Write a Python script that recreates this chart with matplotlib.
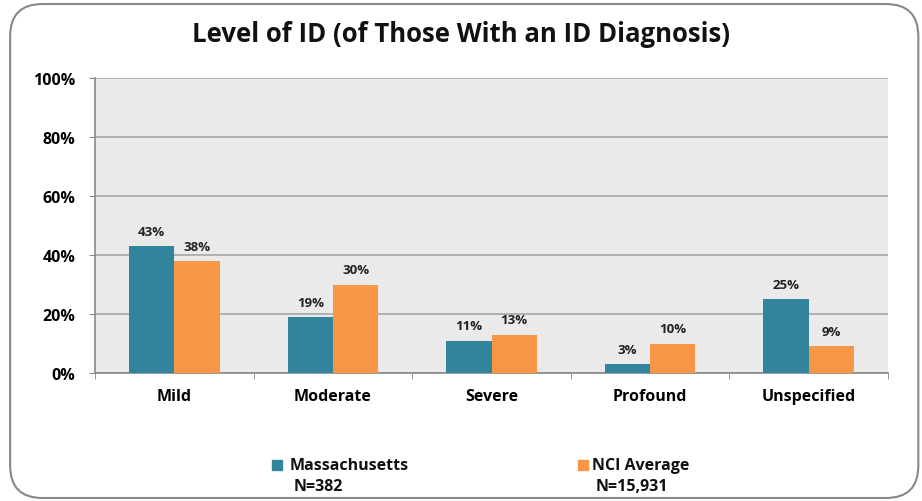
import numpy as np
import matplotlib.pyplot as plt
from matplotlib.patches import FancyBboxPatch, Rectangle

categories = ["Mild", "Moderate", "Severe", "Profound", "Unspecified"]
massachusetts = [43, 19, 11, 3, 25]
nci_average = [38, 30, 13, 10, 9]
series_names = ["Massachusetts", "NCI Average"]
series_n = ["N=382", "N=15,931"]
yticks = [0, 20, 40, 60, 80, 100]

teal = "#31849B"
orange = "#F79646"
font = "Open Sans"

fig = plt.figure(figsize=(9.22, 5.02), dpi=100)
fig.patch.set_facecolor("white")

# rounded frame round the whole chart
frame = FancyBboxPatch((0.011, 0.006), 0.985, 0.984, boxstyle="round,pad=0,rounding_size=0.035",
                       transform=fig.transFigure, fill=False, edgecolor="#888888", linewidth=1.5,
                       mutation_aspect=922 / 502)
fig.patches.append(frame)

ax = fig.add_axes([95 / 922, 1 - 374 / 502, (888 - 95) / 922, (374 - 79) / 502])
ax.set_facecolor("#EAEAEA")

x = np.arange(len(categories))
w = 0.285
b1 = ax.bar(x - w / 2, massachusetts, w, color=teal, zorder=3)
b2 = ax.bar(x + w / 2, nci_average, w, color=orange, zorder=3)

for bars, vals in ((b1, massachusetts), (b2, nci_average)):
    for r, v in zip(bars, vals):
        ax.annotate(f"{v}%", (r.get_x() + r.get_width() / 2, v), xytext=(0, 6),
                    textcoords="offset points", ha="center", va="bottom",
                    fontsize=9.5, fontweight="bold", family=font, color="#222222")

ax.set_xlim(-0.5, len(categories) - 0.5)
ax.set_ylim(0, 100)
ax.set_yticks(yticks)
ax.set_yticklabels([f"{t}%" for t in yticks], fontsize=11.5, fontweight="bold", family=font)
ax.yaxis.grid(True, color="#A6A6A6", linewidth=1.2, zorder=0)
ax.set_axisbelow(True)

ax.set_xticks(x)
ax.set_xticklabels(categories, fontsize=11.5, fontweight="bold", family=font)
ax.set_xticks(np.arange(-0.5, len(categories)), minor=True)
ax.tick_params(axis="x", which="major", length=0, pad=11)
ax.tick_params(axis="x", which="minor", length=4, color="#888888")
ax.tick_params(axis="y", length=4, color="#888888", pad=10)

for s in ("top", "right"):
    ax.spines[s].set_visible(False)
for s in ("left", "bottom"):
    ax.spines[s].set_color("#888888")
    ax.spines[s].set_linewidth(1.2)

fig.text(0.5, 1 - 35 / 502, "Level of ID (of Those With an ID Diagnosis)", ha="center", va="center",
         fontsize=18.5, fontweight="bold", family=font, color="#111111")

# legend
for (hx, tx), name, n, col in zip(((272, 290), (578, 592)), series_names, series_n,
                                   (teal, orange)):
    fig.patches.append(Rectangle((hx / 922, 1 - 471 / 502), 10 / 922, 10 / 502,
                                 transform=fig.transFigure, color=col))
    fig.text(tx / 922, 1 - 466 / 502, name, ha="left", va="center", fontsize=11.5,
             fontweight="bold", family=font, color="#111111")
    fig.text((tx + 4) / 922, 1 - 487 / 502, n, ha="left", va="center", fontsize=11.5,
             fontweight="bold", family=font, color="#111111")

fig.savefig("out.png", dpi=100)
